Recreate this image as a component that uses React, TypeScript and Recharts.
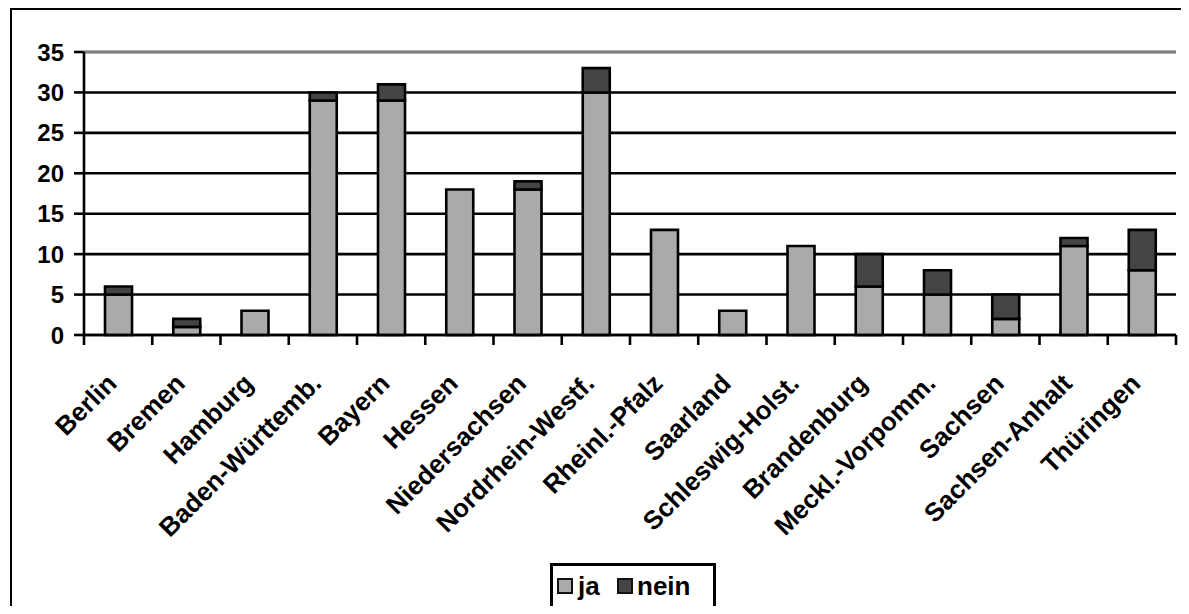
import React from "react";
import { BarChart, Bar, XAxis, YAxis, CartesianGrid, ReferenceLine } from "recharts";

const categories = [
  "Berlin",
  "Bremen",
  "Hamburg",
  "Baden-Württemb.",
  "Bayern",
  "Hessen",
  "Niedersachsen",
  "Nordrhein-Westf.",
  "Rheinl.-Pfalz",
  "Saarland",
  "Schleswig-Holst.",
  "Brandenburg",
  "Meckl.-Vorpomm.",
  "Sachsen",
  "Sachsen-Anhalt",
  "Thüringen",
];
const jaValues = [5, 1, 3, 29, 29, 18, 18, 30, 13, 3, 11, 6, 5, 2, 11, 8];
const neinValues = [1, 1, 0, 1, 2, 0, 1, 3, 0, 0, 0, 4, 3, 3, 1, 5];
const yTicks = [0, 5, 10, 15, 20, 25, 30, 35];
const seriesNames = ["ja", "nein"];

const data = categories.map((name, i) => ({ name, ja: jaValues[i], nein: neinValues[i] }));

const FONT = '"Liberation Sans", Arial, Helvetica, sans-serif';
const JA_COLOR = "#aaaaaa";
const NEIN_COLOR = "#444444";
const CHART_W = 1170;
const CHART_H = 596;
const MARGIN = { top: 42, right: 6, bottom: 0, left: 0 };
const Y_AXIS_W = 72;
const STEP = (CHART_W - MARGIN.left - MARGIN.right - Y_AXIS_W) / categories.length;
const LINE_W = 2.6;

function CategoryTick(props: any) {
  const { x, y, payload } = props;
  const index = props.index ?? payload.index;
  const left = x - STEP / 2;
  const right = x + STEP / 2;
  const ty = y + 50;
  return (
    <g>
      <line x1={left} y1={y} x2={left} y2={y + 10} stroke="#000" strokeWidth={LINE_W} />
      {index === categories.length - 1 && (
        <line x1={right} y1={y} x2={right} y2={y + 10} stroke="#000" strokeWidth={LINE_W} />
      )}
      <text
        x={x}
        y={ty}
        transform={`rotate(-45, ${x}, ${ty})`}
        textAnchor="end"
        fontFamily={FONT}
        fontWeight="bold"
        fontSize={26}
        fill="#000"
      >
        {payload.value}
      </text>
    </g>
  );
}

function LegendBox() {
  const square = (color: string, left: number) => (
    <div
      style={{
        position: "absolute",
        left,
        top: 12,
        width: 16,
        height: 16,
        boxSizing: "border-box",
        border: "2px solid #111",
        background: color,
      }}
    />
  );
  const label = (text: string, left: number) => (
    <div
      style={{
        position: "absolute",
        left,
        top: 5,
        fontFamily: FONT,
        fontWeight: "bold",
        fontSize: 26,
        lineHeight: "30px",
        color: "#000",
      }}
    >
      {text}
    </div>
  );
  return (
    <div
      style={{
        position: "absolute",
        left: 538,
        top: 553,
        width: 166,
        height: 46,
        boxSizing: "border-box",
        border: "3px solid #000",
        background: "#fff",
      }}
    >
      {square(JA_COLOR, 4)}
      {label(seriesNames[0], 25)}
      {square(NEIN_COLOR, 64)}
      {label(seriesNames[1], 84)}
    </div>
  );
}

export default function App() {
  return (
    <div
      style={{
        position: "relative",
        marginLeft: 2,
        width: CHART_W,
        height: CHART_H,
        borderLeft: "2px solid #000",
        borderTop: "2px solid #000",
        background: "#fff",
      }}
    >
      <BarChart width={CHART_W} height={CHART_H} data={data} margin={MARGIN}>
        <CartesianGrid vertical={false} stroke="#000" strokeWidth={LINE_W} />
        <XAxis
          dataKey="name"
          interval={0}
          height={CHART_H - MARGIN.top - 283}
          tickSize={0}
          tickMargin={0}
          tickLine={false}
          axisLine={{ stroke: "#000", strokeWidth: LINE_W }}
          tick={<CategoryTick />}
        />
        <YAxis
          width={Y_AXIS_W}
          domain={[0, 35]}
          ticks={yTicks}
          interval={0}
          tickSize={10}
          tickMargin={10}
          axisLine={{ stroke: "#000", strokeWidth: LINE_W }}
          tickLine={{ stroke: "#000", strokeWidth: LINE_W }}
          tick={{ fill: "#000", fontSize: 24, fontWeight: "bold", fontFamily: FONT }}
        />
        <YAxis
          yAxisId="right"
          orientation="right"
          width={0}
          domain={[0, 35]}
          ticks={yTicks}
          tick={false}
          tickLine={false}
          axisLine={{ stroke: "#808080", strokeWidth: LINE_W }}
        />
        <ReferenceLine y={35} stroke="#808080" strokeWidth={LINE_W} />
        <Bar
          dataKey="ja"
          stackId="s"
          fill={JA_COLOR}
          stroke="#000"
          strokeWidth={LINE_W}
          barSize={27}
          isAnimationActive={false}
        />
        <Bar
          dataKey="nein"
          stackId="s"
          fill={NEIN_COLOR}
          stroke="#000"
          strokeWidth={LINE_W}
          barSize={27}
          isAnimationActive={false}
        />
      </BarChart>
      <LegendBox />
    </div>
  );
}
